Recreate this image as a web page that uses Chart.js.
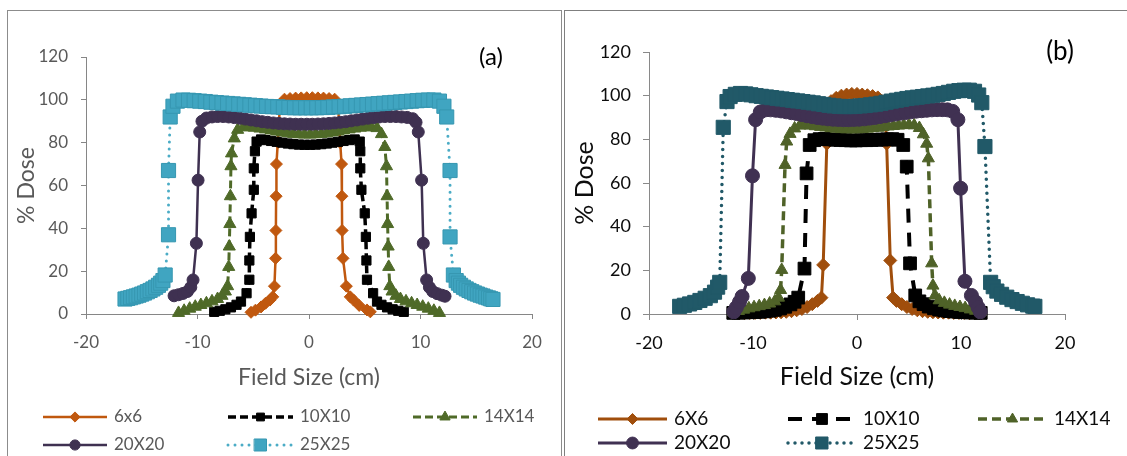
<!DOCTYPE html>
<html>
<head>
<meta charset="utf-8">
<script src="https://cdn.jsdelivr.net/npm/chart.js@4.4.1/dist/chart.umd.min.js"></script>
<style>
  body { margin: 0; background: #fff; width: 1127px; height: 456px; overflow: hidden; position: relative; }
  .wrap { position: absolute; top: 0; height: 456px; }
  .frame { position: absolute; pointer-events: none; }
</style>
</head>
<body>
<div class="wrap" style="left:0;width:563px"><canvas id="chartA"></canvas></div>
<div class="wrap" style="left:563px;width:564px"><canvas id="chartB"></canvas></div>
<div class="frame" style="left:7px;top:10px;width:553px;height:460px;border:1px solid #8c8c8c"></div>
<div class="frame" style="left:564px;top:10px;width:600px;height:460px;border:1px solid #7f7f7f"></div>
<script>
// series labels
const labelsA = ['6x6', '10X10', '14X14', '20X20', '25X25'];
const labelsB = ['6X6', '10X10', '14X14', '20X20', '25X25'];

// x ticks / y ticks
const xTicks = [-20, -10, 0, 10, 20];
const yTicks = [0, 20, 40, 60, 80, 100, 120];

// panel (a) profiles: [field position cm, % dose]
const a6 = [[-5.2,0.8],[-4.8,1.8],[-4.3,3.3],[-3.9,5],[-3.5,6.5],[-3.25,8],[-3.1,13],[-3.0,26],[-2.97,39],[-2.95,55],[-2.92,70],[-2.8,80],[-2.6,98],[-2.2,100.3],[-1.7,100.6],[-1.2,100.8],[-0.7,100.9],[-0.2,101],[0.3,101],[0.8,100.9],[1.3,100.8],[1.8,100.6],[2.3,100.3],[2.6,98],[2.8,80],[2.92,70],[2.95,55],[2.97,39],[3.05,26],[3.35,13],[3.7,8],[4.0,6.5],[4.5,4],[5.2,1.9],[5.5,1]];
const a10 = [[-8.5,1],[-8,1.5],[-7.5,2.2],[-7,3.1],[-6.5,4.3],[-6.1,5.8],[-5.6,9.7],[-5.35,16],[-5.35,25],[-5.3,36],[-5.15,47],[-4.95,58],[-4.95,68],[-4.85,76],[-4.7,80.5],[-4.3,81.5],[-3.9,81.2],[-3.4,80.8],[-2.9,80.4],[-2.4,80],[-1.9,79.6],[-1.4,79.3],[-0.9,79.1],[-0.4,79],[0.1,79],[0.6,79.1],[1.1,79.3],[1.6,79.6],[2.1,80],[2.6,80.4],[3.1,80.8],[3.6,81.2],[4.1,81.5],[4.55,80.5],[4.6,76],[4.6,68],[4.7,58],[5.0,47],[5.1,36],[5.15,25],[5.2,16],[5.75,9.7],[6.1,5.8],[6.5,4.3],[7,3.1],[7.5,2.2],[8,1.5],[8.5,1]];
const a14 = [[-11.7,0.5],[-11.2,1.5],[-10.7,2.5],[-10.2,3.4],[-9.7,4.2],[-9.2,5],[-8.7,5.9],[-8.2,7],[-7.8,8.5],[-7.5,10.5],[-7.3,13],[-7.2,22],[-7.15,31.5],[-7.1,42],[-7.05,55],[-7.0,69],[-6.95,75],[-6.7,82],[-6.4,86],[-5.9,87.2],[-5.4,87.2],[-4.9,87],[-4.4,86.6],[-3.9,86.2],[-3.4,85.7],[-2.9,85.2],[-2.4,84.8],[-1.9,84.4],[-1.4,84.1],[-0.9,83.9],[-0.4,83.8],[0.1,83.8],[0.6,83.9],[1.1,84.1],[1.6,84.4],[2.1,84.8],[2.6,85.2],[3.1,85.7],[3.6,86.2],[4.1,86.6],[4.6,87],[5.1,87.2],[5.6,87.2],[6.1,86.8],[6.5,84],[6.8,78],[6.95,69],[7.0,55],[7.05,42],[7.1,31.5],[7.15,22],[7.25,13],[7.45,10.5],[7.8,8.5],[8.2,7],[8.7,5.9],[9.2,5],[9.7,4.2],[10.2,3.4],[10.7,2.5],[11.2,1.5],[11.7,0.5]];
const a20 = [[-12.1,8.5],[-11.7,9],[-11.3,9.6],[-10.9,10.5],[-10.6,12.5],[-10.4,15.9],[-10.1,33],[-9.95,62.5],[-9.8,85],[-9.6,90],[-9.2,91.5],[-8.7,92],[-8.2,92.2],[-7.7,92.2],[-7.2,92],[-6.7,91.7],[-6.2,91.4],[-5.7,91],[-5.2,90.6],[-4.7,90.2],[-4.2,89.8],[-3.7,89.5],[-3.2,89.2],[-2.7,89],[-2.2,88.8],[-1.7,88.7],[-1.2,88.6],[-0.7,88.6],[-0.2,88.6],[0.3,88.6],[0.8,88.7],[1.3,88.8],[1.8,89],[2.3,89.2],[2.8,89.5],[3.3,89.8],[3.8,90.2],[4.3,90.6],[4.8,91],[5.3,91.4],[5.8,91.7],[6.3,92],[6.8,92.2],[7.3,92.2],[7.8,92.2],[8.3,92],[8.8,91.8],[9.3,91.2],[9.6,89.5],[9.8,85],[10.1,62.5],[10.25,33],[10.55,15.9],[10.8,12.5],[11.1,10.5],[11.5,9.5],[11.9,8.8],[12.2,8.3]];
const a25 = [[-16.5,7],[-16.25,7.3],[-16,7.6],[-15.75,8],[-15.5,8.4],[-15.25,8.8],[-15,9.3],[-14.75,9.8],[-14.5,10.4],[-14.25,11],[-14,11.7],[-13.75,12.5],[-13.5,13.4],[-13.3,14.4],[-13.1,15.6],[-12.9,18.2],[-12.6,37],[-12.6,67],[-12.45,92],[-12.2,97],[-11.8,99.4],[-11.3,99.9],[-10.8,99.8],[-10.3,99.6],[-9.8,99.4],[-9.3,99.2],[-8.8,98.9],[-8.3,98.7],[-7.8,98.5],[-7.3,98.3],[-6.8,98.1],[-6.3,97.9],[-5.8,97.7],[-5.3,97.5],[-4.8,97.3],[-4.3,97.1],[-3.8,96.9],[-3.3,96.8],[-2.8,96.7],[-2.3,96.5],[-1.8,96.4],[-1.3,96.3],[-0.8,96.3],[-0.3,96.3],[0.2,96.3],[0.7,96.3],[1.2,96.4],[1.7,96.5],[2.2,96.7],[2.7,96.8],[3.2,97],[3.7,97.2],[4.2,97.4],[4.7,97.6],[5.2,97.8],[5.7,98],[6.2,98.2],[6.7,98.4],[7.2,98.6],[7.7,98.8],[8.2,99],[8.7,99.2],[9.2,99.4],[9.7,99.6],[10.2,99.8],[10.7,99.9],[11.2,99.9],[11.7,99.4],[12.1,97],[12.35,92],[12.65,67],[12.65,36],[12.95,18.2],[13.2,15.6],[13.4,14.4],[13.6,13.4],[13.85,12.5],[14.1,11.7],[14.35,11],[14.6,10.4],[14.85,9.8],[15.1,9.3],[15.35,8.8],[15.6,8.4],[15.85,7.9],[16.1,7.5],[16.3,7.1],[16.5,6.8]];

// panel (b) profiles
const b6 = [[-11.8,0.4],[-11.3,0.4],[-10.8,0.4],[-10.3,0.5],[-9.8,0.5],[-9.3,0.5],[-8.8,0.6],[-8.3,0.6],[-7.8,0.7],[-7.3,0.8],[-6.8,1],[-6.3,1.3],[-5.8,1.7],[-5.3,2.3],[-4.8,3.2],[-4.3,4.5],[-3.8,6],[-3.42,7.5],[-3.25,22.5],[-2.9,78],[-2.75,92],[-2.5,97.5],[-2,99],[-1.5,100],[-1,100.5],[-0.5,100.8],[0,100.8],[0.5,100.5],[1,100.2],[1.5,99.8],[2,99.2],[2.4,97.5],[2.7,92],[2.85,78],[3.2,24.5],[3.47,7.5],[3.8,6],[4.3,4.5],[4.8,3.2],[5.3,2.3],[5.8,1.7],[6.3,1.3],[6.8,1],[7.3,0.8],[7.8,0.7],[8.3,0.6],[8.8,0.6],[9.3,0.5],[9.8,0.5],[10.3,0.5],[10.8,0.4],[11.3,0.4],[11.8,0.4]];
const b10 = [[-11.9,0.5],[-11.4,0.6],[-10.9,0.7],[-10.4,0.8],[-9.9,0.9],[-9.4,1.0],[-8.9,1.2],[-8.4,1.5],[-7.9,1.9],[-7.4,2.5],[-6.9,3.3],[-6.4,4.4],[-6.0,5.6],[-5.65,7.5],[-5.05,20.8],[-4.85,64.4],[-4.55,77.4],[-4.1,79.6],[-3.6,80.1],[-3.1,80.2],[-2.6,80],[-2.1,79.8],[-1.6,79.7],[-1.1,79.6],[-0.6,79.5],[-0.1,79.5],[0.4,79.6],[0.9,79.6],[1.4,79.7],[1.9,79.8],[2.4,79.9],[2.9,80],[3.4,80.1],[3.9,79.8],[4.45,77.4],[4.78,67.5],[5.1,23.2],[5.6,8.5],[6.0,5.8],[6.4,4.5],[6.9,3.4],[7.4,2.6],[7.9,2.0],[8.4,1.6],[8.9,1.3],[9.4,1.1],[9.9,0.9],[10.4,0.8],[10.9,0.7],[11.4,0.6],[11.9,0.5]];
const b14 = [[-11.9,0.8],[-11.4,1.4],[-10.9,2.0],[-10.4,2.6],[-9.9,3.1],[-9.4,3.6],[-8.9,4.1],[-8.4,4.8],[-7.9,5.8],[-7.55,7.5],[-7.35,11],[-7.24,20.2],[-6.92,68.3],[-6.76,79],[-6.44,82.5],[-6.0,85],[-5.5,86.3],[-5.0,86.5],[-4.5,86.3],[-4.0,86],[-3.5,85.7],[-3.0,85.4],[-2.5,85.1],[-2.0,84.9],[-1.5,84.7],[-1.0,84.6],[-0.5,84.6],[0,84.6],[0.5,84.7],[1.0,84.9],[1.5,85.1],[2.0,85.3],[2.5,85.6],[3.0,85.9],[3.5,86.1],[4.0,86.3],[4.5,86.5],[5.0,86.6],[5.5,86.4],[6.0,85.2],[6.38,82.3],[6.7,78],[6.86,71.3],[7.18,23.2],[7.3,13],[7.5,8.5],[7.9,6.3],[8.4,5.1],[8.9,4.3],[9.4,3.7],[9.9,3.2],[10.4,2.7],[10.9,2.1],[11.4,1.5],[11.9,0.9]];
const b20 = [[-11.85,1],[-11.6,3],[-11.3,5.5],[-11.05,8],[-10.45,16.3],[-10.05,63.3],[-9.75,89],[-9.3,92.5],[-8.8,93.5],[-8.3,93.5],[-7.8,93.3],[-7.3,93],[-6.8,92.6],[-6.3,92.2],[-5.8,91.8],[-5.3,91.3],[-4.8,90.8],[-4.3,90.4],[-3.8,90],[-3.3,89.7],[-2.8,89.4],[-2.3,89.2],[-1.8,89.1],[-1.3,89],[-0.8,89],[-0.3,89.1],[0.2,89.2],[0.7,89.4],[1.2,89.7],[1.7,90],[2.2,90.4],[2.7,90.8],[3.2,91.2],[3.7,91.6],[4.2,92],[4.7,92.3],[5.2,92.6],[5.7,92.9],[6.2,93.1],[6.7,93.3],[7.2,93.5],[7.7,93.6],[8.2,93.6],[8.7,93.5],[9.2,92.8],[9.7,89],[9.96,57.6],[10.38,15],[11.0,8.5],[11.4,5.5],[11.65,3],[11.85,1]];
const b25 = [[-17.05,3.5],[-16.6,4],[-16.1,4.6],[-15.6,5.3],[-15.1,6.2],[-14.6,7.2],[-14.1,8.4],[-13.7,10],[-13.4,12.3],[-13.2,14.5],[-12.86,85.5],[-12.5,97.3],[-12.2,99.6],[-11.7,100.6],[-11.2,101],[-10.7,100.8],[-10.2,100.4],[-9.7,100],[-9.2,99.7],[-8.7,99.4],[-8.2,99.1],[-7.7,98.8],[-7.2,98.5],[-6.7,98.2],[-6.2,97.9],[-5.7,97.6],[-5.2,97.3],[-4.7,97],[-4.2,96.7],[-3.7,96.3],[-3.2,96],[-2.7,95.6],[-2.2,95.3],[-1.7,95.1],[-1.2,95],[-0.7,95],[-0.2,95.1],[0.3,95.3],[0.8,95.5],[1.3,95.8],[1.8,96.1],[2.3,96.5],[2.8,97],[3.3,97.5],[3.8,97.9],[4.3,98.3],[4.8,98.7],[5.3,99],[5.8,99.3],[6.3,99.6],[6.8,99.9],[7.3,100.2],[7.8,100.6],[8.3,101],[8.8,101.5],[9.3,102],[9.8,102.3],[10.3,102.5],[10.8,102.5],[11.3,102],[11.7,100.3],[12.0,96.8],[12.3,76.7],[12.85,14.5],[13.1,12.5],[13.45,10.5],[13.9,9],[14.4,7.7],[14.9,6.6],[15.4,5.7],[15.9,4.9],[16.4,4.2],[16.9,3.6],[17.1,3.5]];

// styles per series
const styleA = [
  { color: '#c0580f', width: 2.5, dash: [], marker: 'rectRot', radius: 6 },
  { color: '#000000', width: 3.5, dash: [8, 4], marker: 'rect', radius: 6.5 },
  { color: '#4f6a28', width: 3, dash: [8, 4], marker: 'triangle', radius: 7 },
  { color: '#3f3151', width: 2.5, dash: [], marker: 'circle', radius: 6 },
  { color: '#4bacc6', width: 3, dash: [0, 7], cap: 'round', marker: 'rect', radius: 10, fill: '#40a5c1', edge: '#3697b1' }
];
const styleB = [
  { color: '#a04e0c', width: 3, dash: [], marker: 'rectRot', radius: 6.5 },
  { color: '#000000', width: 4, dash: [14, 10], marker: 'rect', radius: 9 },
  { color: '#4f6228', width: 3.5, dash: [9, 5], marker: 'triangle', radius: 7 },
  { color: '#403152', width: 3, dash: [], marker: 'circle', radius: 7 },
  { color: '#215968', width: 3.5, dash: [0, 7], cap: 'round', marker: 'rect', radius: 10 }
];

const legendPlugin = {
  id: 'panelLegend',
  afterDraw(chart, args, opts) {
    const ctx = chart.ctx;
    ctx.save();
    chart.data.datasets.forEach((ds, i) => {
      const [x0, x1, y] = opts.slots[i];
      ctx.strokeStyle = ds.borderColor;
      ctx.lineWidth = ds.borderWidth;
      ctx.lineCap = ds.borderCapStyle;
      ctx.setLineDash(ds.borderDash);
      ctx.beginPath();
      ctx.moveTo(x0, y);
      ctx.lineTo(x1, y);
      ctx.stroke();
      ctx.setLineDash([]);
      ctx.fillStyle = ds.pointBackgroundColor;
      ctx.strokeStyle = ds.pointBorderColor;
      ctx.lineWidth = 1;
      Chart.helpers.drawPoint(ctx, { pointStyle: ds.pointStyle, radius: ds.pointRadius * 0.85, rotation: 0, borderWidth: 1 }, (x0 + x1) / 2, y);
      ctx.fillStyle = opts.color;
      ctx.font = opts.font;
      ctx.textAlign = 'left';
      ctx.textBaseline = 'middle';
      ctx.fillText(ds.label, x1 + opts.gap, y);
    });
    ctx.fillStyle = '#000';
    ctx.font = opts.tagFont;
    ctx.textAlign = 'center';
    ctx.fillText(opts.tag, opts.tagX, opts.tagY);
    ctx.restore();
  }
};

Chart.defaults.font.family = 'Lato';

function buildChart(id, series, labels, styles, look) {
  const datasets = series.map((pts, i) => {
    const s = styles[i];
    return {
      label: labels[i],
      data: pts.map(p => ({ x: p[0], y: p[1] })),
      showLine: true,
      borderColor: s.color,
      backgroundColor: s.fill || s.color,
      borderWidth: s.width,
      borderDash: s.dash,
      borderCapStyle: s.cap || 'butt',
      pointStyle: s.marker,
      pointRadius: s.radius,
      pointHoverRadius: s.radius,
      pointBackgroundColor: s.fill || s.color,
      pointBorderColor: s.edge || s.color,
      pointBorderWidth: 1,
      tension: 0,
      clip: false,
      order: series.length - i
    };
  });
  return new Chart(document.getElementById(id), {
    type: 'scatter',
    data: { datasets },
    options: {
      responsive: true,
      maintainAspectRatio: false,
      animation: false,
      events: [],
      layout: { padding: look.padding },
      plugins: {
        legend: { display: false },
        tooltip: { enabled: false },
        panelLegend: look.legend
      },
      scales: {
        x: {
          type: 'linear', min: xTicks[0], max: xTicks[xTicks.length - 1],
          afterBuildTicks: s => { s.ticks = xTicks.map(v => ({ value: v })); },
          afterFit: s => { s.height = 80; },
          ticks: { color: look.text, font: { size: look.tick }, padding: look.tickPad },
          grid: { drawOnChartArea: false, drawTicks: true, tickLength: look.tickLen, color: look.axis },
          border: { color: look.axis },
          title: { display: true, text: 'Field Size (cm)', color: look.text, font: { size: look.title }, padding: { top: 0, bottom: look.xTitlePad } }
        },
        y: {
          min: yTicks[0], max: yTicks[yTicks.length - 1],
          afterBuildTicks: s => { s.ticks = yTicks.map(v => ({ value: v })); },
          afterFit: s => { s.width = 86; },
          ticks: { color: look.text, font: { size: look.tick }, padding: look.tickPad },
          grid: { drawOnChartArea: false, drawTicks: true, tickLength: look.tickLen, color: look.axis },
          border: { color: look.axis },
          title: { display: true, text: '% Dose', color: look.text, font: { size: look.title }, padding: { top: look.yTitlePad, bottom: 0 } }
        }
      }
    },
    plugins: [legendPlugin]
  });
}

buildChart('chartA', [a6, a10, a14, a20, a25], labelsA, styleA, {
  padding: { left: 0, right: 31, top: 57, bottom: 62 },
  text: '#595959', axis: '#868686', tick: 17, title: 23, tickPad: 13, tickLen: 5,
  xTitlePad: 2.2, yTitlePad: 13.2,
  legend: {
    slots: [[43, 107, 417], [228, 293, 417], [413, 477, 417], [43, 107, 445], [228, 293, 445]],
    gap: 7, color: '#595959', font: '17px Lato',
    tag: '(a)', tagX: 491, tagY: 57, tagFont: '24px Lato'
  }
});

buildChart('chartB', [b6, b10, b14, b20, b25], labelsB, styleB, {
  padding: { left: 0, right: 62, top: 52, bottom: 62 },
  text: '#0d0d0d', axis: '#898989', tick: 18, title: 25, tickPad: 12, tickLen: 6,
  xTitlePad: 2, yTitlePad: 7,
  legend: {
    slots: [[35, 104, 419], [225, 293, 419], [415, 484, 419], [35, 104, 443], [225, 293, 443]],
    gap: 7, color: '#0d0d0d', font: '19px Lato',
    tag: '(b)', tagX: 497, tagY: 52, tagFont: '26px Lato'
  }
});
</script>
</body>
</html>
